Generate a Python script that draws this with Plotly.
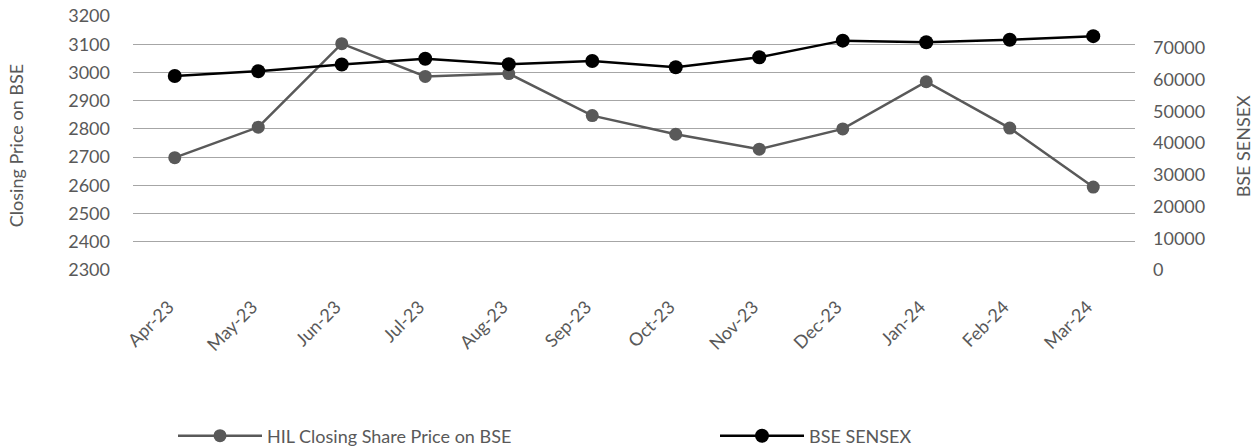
import plotly.graph_objects as go

months = ["Apr-23", "May-23", "Jun-23", "Jul-23", "Aug-23", "Sep-23",
          "Oct-23", "Nov-23", "Dec-23", "Jan-24", "Feb-24", "Mar-24"]
hil_price = [2698, 2806, 3102, 2986, 2996, 2847, 2781, 2728, 2800, 2967, 2803, 2594]
sensex = [61112, 62622, 64719, 66528, 64831, 65828, 63875, 66988, 72240, 71752, 72500, 73651]

left_ticks = list(range(2300, 3201, 100))
right_ticks = list(range(0, 70001, 10000))
right_labels = [str(v) for v in right_ticks]

FONT = "Lato"
GRAY = "#595959"
FS = 18
W, H = 1256, 448

fig = go.Figure()
fig.add_trace(go.Scatter(
    x=months, y=hil_price, name="HIL Closing Share Price on BSE",
    mode="lines+markers", yaxis="y", legend="legend",
    line=dict(color="#595959", width=2.5),
    marker=dict(color="#595959", size=13),
))
fig.add_trace(go.Scatter(
    x=months, y=sensex, name="BSE SENSEX",
    mode="lines+markers", yaxis="y2", legend="legend2",
    line=dict(color="#000000", width=2.5),
    marker=dict(color="#000000", size=14),
))

legend_common = dict(
    orientation="h", xref="container", yref="container",
    xanchor="left", yanchor="middle", y=1 - 436 / H,
    itemwidth=84, bgcolor="rgba(0,0,0,0)",
    font=dict(family=FONT, size=FS, color=GRAY),
)

fig.update_layout(
    width=W, height=H,
    margin=dict(l=133, r=121, t=16, b=178, autoexpand=False),
    paper_bgcolor="white", plot_bgcolor="white",
    font=dict(family=FONT, size=FS, color=GRAY),
    showlegend=True,
    legend=dict(legend_common, x=173 / W),
    legend2=dict(legend_common, x=715 / W),
    xaxis=dict(
        type="category", range=[-0.5, len(months) - 0.5],
        tickangle=-45, showgrid=False, zeroline=False,
        showline=False, ticks="", automargin=False,
        ticklabelstandoff=22, ticklabelshift=-6,
        tickfont=dict(size=FS, color=GRAY),
    ),
    yaxis=dict(
        range=[2300, 3200], tickvals=left_ticks, showgrid=True,
        gridcolor="#A6A6A6", gridwidth=1, zeroline=False, showline=False,
        ticks="", ticklabelstandoff=22, automargin=False,
    ),
    yaxis2=dict(
        range=[0, 80000], tickvals=right_ticks, ticktext=right_labels,
        overlaying="y", side="right",
        showgrid=False, zeroline=False, showline=False, ticks="",
        ticklabelstandoff=17, automargin=False,
    ),
    annotations=[
        dict(text="Closing Price on BSE", xref="paper", yref="paper",
             x=-0.1166, y=0.488, textangle=-90, showarrow=False,
             xanchor="center", yanchor="middle",
             font=dict(family=FONT, size=FS, color=GRAY)),
        dict(text="BSE SENSEX", xref="paper", yref="paper",
             x=1.1081, y=0.488, textangle=-90, showarrow=False,
             xanchor="center", yanchor="middle",
             font=dict(family=FONT, size=FS, color=GRAY)),
    ],
)

fig.write_html("out.html",
               config={"displayModeBar": False},
               post_script="document.body.style.margin='0';document.body.style.overflow='hidden';")
